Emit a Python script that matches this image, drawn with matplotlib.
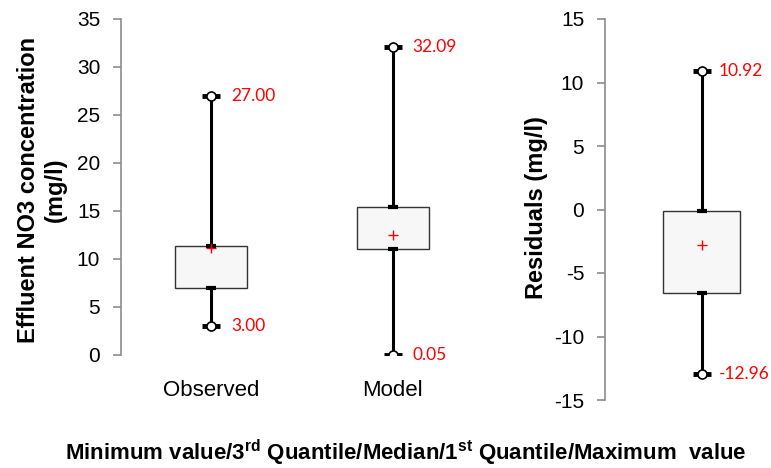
import matplotlib.pyplot as plt

plt.rcParams['font.family'] = ['Liberation Sans', 'DejaVu Sans']
plt.rcParams['mathtext.fontset'] = 'custom'
plt.rcParams['mathtext.rm'] = 'Liberation Sans'
plt.rcParams['mathtext.bf'] = 'Liberation Sans:bold'
plt.rcParams['axes.unicode_minus'] = False

# concentration boxes
conc_names = ["Observed", "Model"]
conc_min = [3.00, 0.05]
conc_q1 = [7.0, 11.07]
conc_q3 = [11.35, 15.45]
conc_max = [27.00, 32.09]
conc_mean = [11.1, 12.5]

# residuals box
res_min = [-12.96]
res_q1 = [-6.6]
res_q3 = [-0.1]
res_max = [10.92]
res_mean = [-2.8]

spine_col = "#8c8c8c"


def draw_box(ax, pos, vmin, q1, q3, vmax, mean, width, offset=20):
    ax.bar(pos, [b - a for a, b in zip(q1, q3)], bottom=q1, width=width,
           color="#f7f7f7", edgecolor="#333333", linewidth=1.0, zorder=2)
    ax.vlines(pos, vmin, q1, color="black", linewidth=2.2, zorder=1)
    ax.vlines(pos, q3, vmax, color="black", linewidth=2.2, zorder=1)
    # small caps on box edges
    ax.plot(pos, q1, ls="none", marker="_", ms=7.5, mew=3, color="black", zorder=3)
    ax.plot(pos, q3, ls="none", marker="_", ms=7.5, mew=3, color="black", zorder=3)
    # min / max markers
    for vals in (vmin, vmax):
        ax.plot(pos, vals, ls="none", marker="_", ms=13, mew=3.5, color="black", zorder=3)
        ax.plot(pos, vals, ls="none", marker="o", ms=6.5, mew=1.2,
                markerfacecolor="white", markeredgecolor="black", zorder=4)
    ax.plot(pos, mean, ls="none", marker="+", ms=7, mew=1.0, color="red", zorder=5)
    for p, v in list(zip(pos, vmax)) + list(zip(pos, vmin)):
        ax.annotate(f"{v:.2f}", (p, v), xytext=(offset, 0), textcoords="offset pixels",
                    va="center", ha="left", color="red", fontsize=12.5, family="Lato",
                    annotation_clip=False)


def style_axis(ax):
    for s in ("top", "right", "bottom"):
        ax.spines[s].set_visible(False)
    ax.spines["left"].set_color(spine_col)
    ax.spines["left"].set_linewidth(1.2)
    ax.tick_params(axis="y", direction="out", length=6, color=spine_col, width=1.2,
                   labelsize=15, pad=9)


fig = plt.figure(figsize=(7.71, 4.68), dpi=100)

ax1 = fig.add_axes([121 / 771, 1 - 355 / 468, 359 / 771, 336 / 468])
pos1 = [1, 2]
draw_box(ax1, pos1, conc_min, conc_q1, conc_q3, conc_max, conc_mean, 0.396)
ax1.set_xlim(0.505, 2.48)
ax1.set_ylim(0, 35)
ax1.set_yticks(range(0, 36, 5))
ax1.set_xticks(pos1)
ax1.set_xticklabels(conc_names, fontsize=16)
ax1.tick_params(axis="x", length=0, pad=18)
style_axis(ax1)

ax2 = fig.add_axes([605 / 771, 1 - 400 / 468, 166 / 771, 381 / 468])
pos2 = [0.584]
draw_box(ax2, pos2, res_min, res_q1, res_q3, res_max, res_mean, 0.464, offset=17)
ax2.set_xlim(0, 1)
ax2.set_ylim(-15, 15)
ax2.set_yticks(range(-15, 16, 5))
ax2.set_xticks([])
style_axis(ax2)

fig.text(42 / 771, 1 - 190 / 468, "Effluent NO3 concentration\n(mg/l)", rotation=90,
         ha="center", va="center", multialignment="center", fontsize=17,
         fontweight="bold", linespacing=1.2)
fig.text(537 / 771, 1 - 208 / 468, "Residuals (mg/l)", rotation=90,
         ha="center", va="center", fontsize=17, fontweight="bold")

fig.text(406 / 771, 1 - 453 / 468,
         r"Minimum value/3$^{\mathbf{rd}}$ Quantile/Median/1$^{\mathbf{st}}$ Quantile/Maximum  value",
         ha="center", va="center", fontsize=16, fontweight="bold")

fig.savefig("out.png", dpi=100)
